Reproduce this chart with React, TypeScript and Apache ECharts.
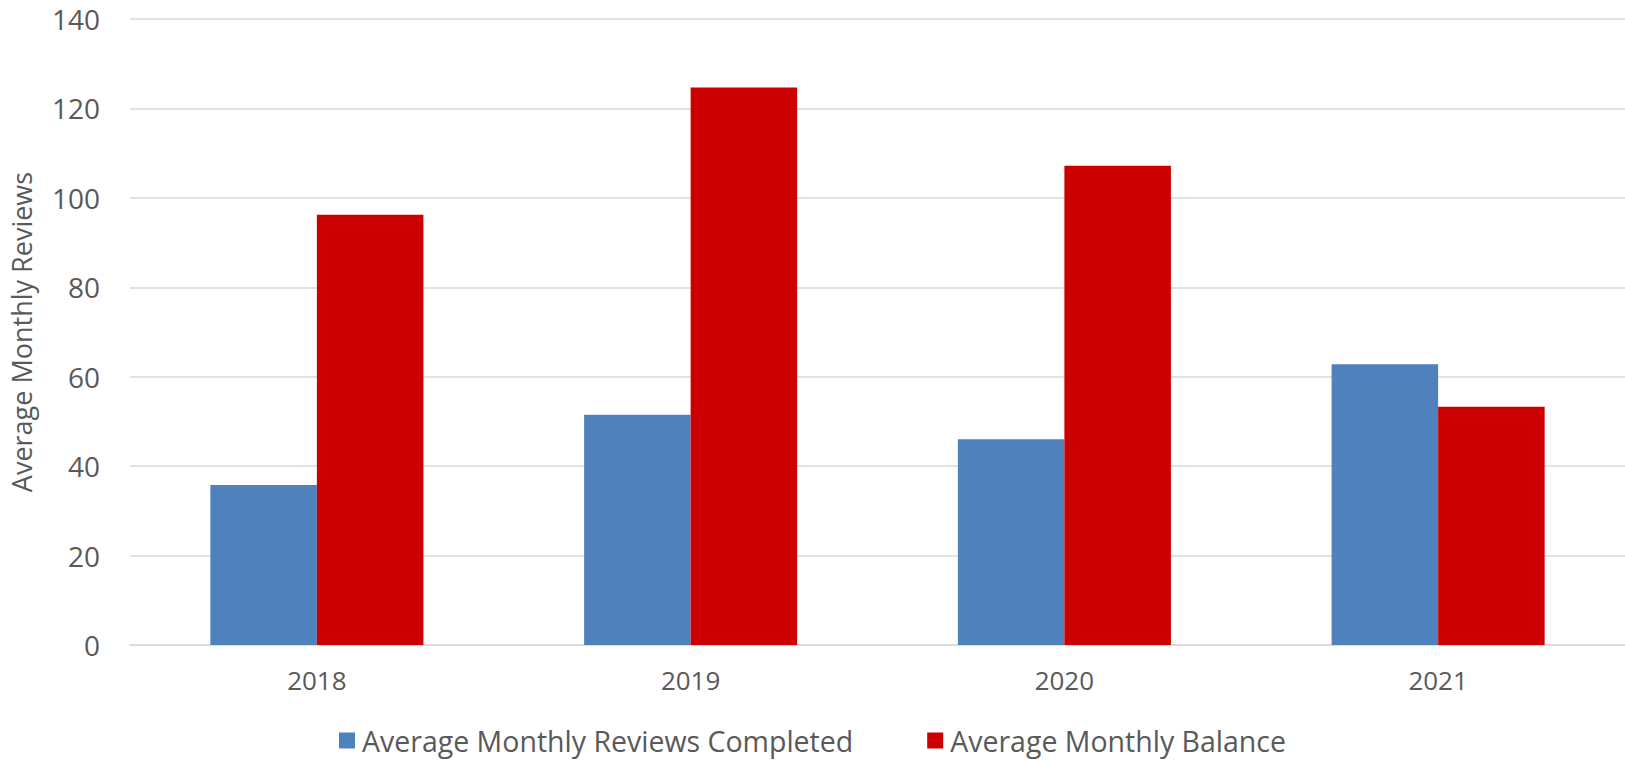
import React, { useEffect, useRef } from "react";
import * as echarts from "echarts";

const categories = ["2018", "2019", "2020", "2021"];
const reviewsCompleted = [35.8, 51.5, 46.0, 62.8];
const monthlyBalance = [96.2, 124.7, 107.2, 53.3];
const seriesNames = ["Average Monthly Reviews Completed", "Average Monthly Balance"];
const yAxisTitle = "Average Monthly Reviews";

export default function App() {
  const ref = useRef<HTMLDivElement>(null);
  useEffect(() => {
    const chart = echarts.init(ref.current!, null, { renderer: "svg" });
    const font = "'Open Sans', sans-serif";
    chart.setOption({
      animation: false,
      textStyle: { fontFamily: font },
      grid: { left: 127, right: 0, top: 19, bottom: 116, containLabel: false },
      legend: {
        bottom: 1,
        left: "center",
        itemWidth: 16,
        itemHeight: 16,
        itemGap: 74,
        icon: "rect",
        textStyle: { fontSize: 28.5, color: "#595959", fontFamily: font, padding: [0, 0, 0, 2] },
        data: seriesNames,
      },
      xAxis: {
        type: "category",
        data: categories,
        axisLine: { lineStyle: { color: "#D9D9D9", width: 1.5 } },
        axisTick: { show: false },
        axisLabel: { fontSize: 26, color: "#595959", margin: 22, fontFamily: font },
      },
      yAxis: {
        type: "value",
        min: 0,
        max: 140,
        interval: 20,
        name: yAxisTitle,
        nameLocation: "middle",
        nameGap: 95,
        nameTextStyle: { fontSize: 27, color: "#595959", fontFamily: font },
        axisLine: { show: false },
        axisTick: { show: false },
        axisLabel: { fontSize: 28, color: "#595959", margin: 30, fontFamily: font },
        splitLine: { lineStyle: { color: "#D9D9D9", width: 1.5 } },
      },
      series: [
        {
          name: seriesNames[0],
          type: "bar",
          data: reviewsCompleted,
          itemStyle: { color: "#4F81BD" },
          barGap: "0%",
          barCategoryGap: "43%",
        },
        {
          name: seriesNames[1],
          type: "bar",
          data: monthlyBalance,
          itemStyle: { color: "#CC0000" },
          barGap: "0%",
          barCategoryGap: "43%",
        },
      ],
    });
    return () => chart.dispose();
  }, []);
  return <div ref={ref} style={{ width: 1625, height: 761, position: "absolute", left: 0, top: 0 }} />;
}
